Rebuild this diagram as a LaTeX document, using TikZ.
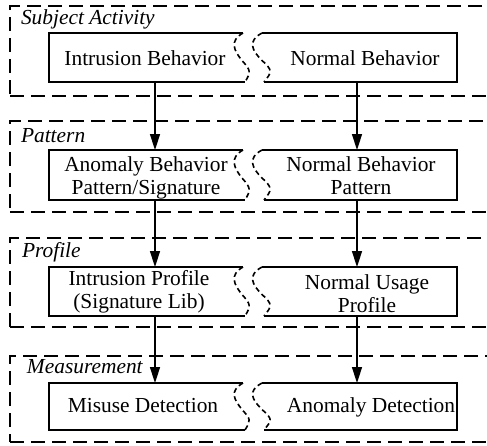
\documentclass[tikz,border=0pt]{standalone}
\usepackage{fontspec}
\setmainfont{Liberation Serif}
\usetikzlibrary{arrows.meta}
\begin{document}
\begin{tikzpicture}[x=1pt,y=-1pt,
  every node/.style={inner sep=0pt,outer sep=0pt},
  layer/.style={draw,line width=1.6pt,dash pattern=on 14pt off 7pt,anchor=north west,minimum width=485pt},
  lbox/.style={minimum width=196pt},
  rbox/.style={minimum width=195pt},
  boxline/.style={line width=1.8pt,line join=miter},
  sline/.style={line width=1.6pt,dash pattern=on 5pt off 3.5pt},
  txt/.style={font=\fontsize{21.4}{23}\selectfont,align=center},
  lbl/.style={font=\fontsize{21.4}{23}\selectfont\itshape,anchor=base west},
  flow/.style={line width=1.5pt,-{Triangle[length=16pt,width=10pt]}}]
\useasboundingbox (0,0) rectangle (487,445);
\clip (0,0) rectangle (487,445);

% layers
\node[layer,minimum height=90pt] (c1) at (10,6) {};
\node[layer,minimum height=91pt] (c2) at (10,121) {};
\node[layer,minimum height=89pt] (c3) at (10,238) {};
\node[layer,minimum height=86pt] (c4) at (10,356) {};

% box areas
\node[lbox,minimum height=49pt] (a1) at (147,57.5) {};
\node[rbox,minimum height=49pt] (b1) at (359.5,57.5) {};
\node[lbox,minimum height=50pt] (a2) at (147,175) {};
\node[rbox,minimum height=50pt] (b2) at (359.5,175) {};
\node[lbox,minimum height=49pt] (a3) at (147,291.5) {};
\node[rbox,minimum height=49pt] (b3) at (359.5,291.5) {};
\node[lbox,minimum height=47pt] (a4) at (147,406.5) {};
\node[rbox,minimum height=47pt] (b4) at (359.5,406.5) {};

\foreach \n in {1,...,4}{
  \draw[boxline] ([xshift=-2pt]a\n.north east) -- (a\n.north west) -- (a\n.south west) -- (a\n.south east);
  \draw[sline] ([xshift=-2pt]a\n.north east) .. controls +(-14,8) and +(-8,-10) .. ([xshift=-3pt,yshift=-3pt]a\n.east) .. controls +(9,10) and +(6,-10) .. (a\n.south east);
  \draw[boxline] ([xshift=2pt]b\n.south west) -- (b\n.south east) -- (b\n.north east) -- (b\n.north west);
  \draw[sline] (b\n.north west) .. controls +(-15,8) and +(-10,-10) .. ([yshift=-3pt]b\n.west) .. controls +(11,10) and +(8,-10) .. ([xshift=2pt]b\n.south west);
}

% texts
\node[txt] (ta1) at (145,57.8) {Intrusion Behavior};
\node[txt] (tb1) at (365,57.8) {Normal Behavior};
\node[txt] (ta2) at (146,177.6) {Anomaly Behavior\\Pattern/Signature};
\node[txt] (tb2) at (361,175.4) {Normal Behavior\\Pattern};
\node[txt] (ta3) at (139,291.7) {Intrusion Profile\\(Signature Lib)};
\node[txt] (tb3) at (367,293.5) {Normal Usage\\Profile};
\node[txt] (ta4) at (143,405.5) {Misuse Detection};
\node[txt] (tb4) at (371,407) {Anomaly Detection};

% labels
\node[lbl] (l1) at (21,24) {Subject Activity};
\node[lbl] (l2) at (21,142) {Pattern};
\node[lbl] (l3) at (22,257) {Profile};
\node[lbl] (l4) at (27,373) {Measurement};

% arrows
\foreach \i/\j in {1/2,2/3,3/4}{
  \draw[flow] ([xshift=8pt]a\i.south) -- ([xshift=8pt]a\j.north);
  \draw[flow] ([xshift=-2.5pt]b\i.south) -- ([xshift=-2.5pt]b\j.north);
}
\end{tikzpicture}
\end{document}
